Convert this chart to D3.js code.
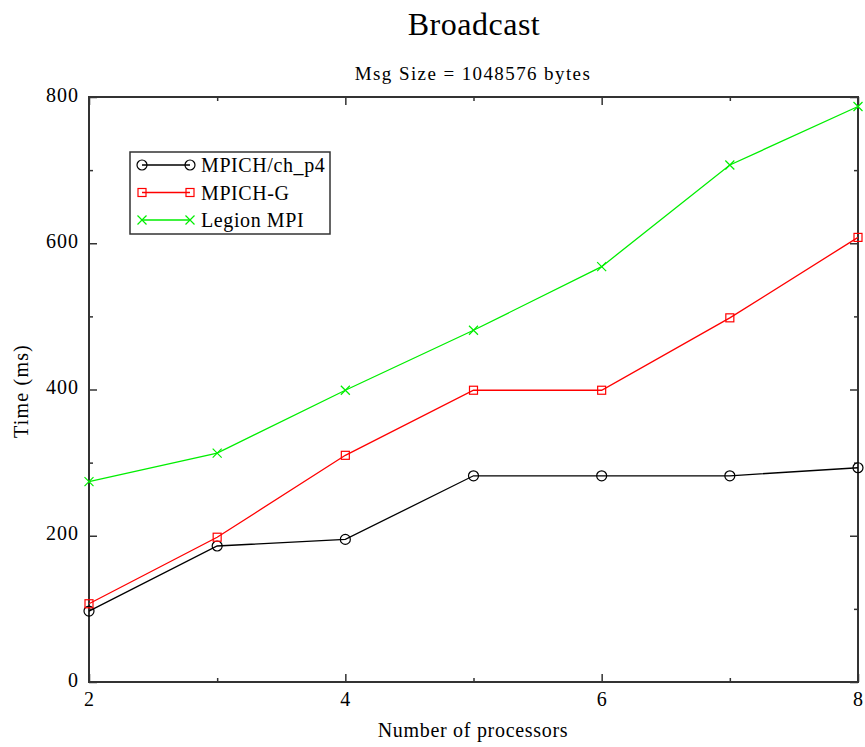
<!DOCTYPE html>
<html>
<head>
<meta charset="utf-8">
<script src="https://cdn.jsdelivr.net/npm/d3@7"></script>
<style>
  html, body { margin: 0; padding: 0; background: #fff; }
  text { font-family: "Liberation Serif", "DejaVu Serif", serif; fill: #000; }
</style>
</head>
<body>
<svg id="chart" width="865" height="747"></svg>
<script>
// Broadcast timings, 1 MiB message, per processor count
const processors = [2, 3, 4, 5, 6, 7, 8];
const mpichP4 = [97, 186, 195, 282, 282, 282, 293];
const mpichG = [107, 198, 310, 399, 399, 498, 608];
const legionMPI = [274, 313, 399, 481, 568, 707, 787];

const seriesNames = ["MPICH/ch_p4", "MPICH-G", "Legion MPI"];
const seriesColors = ["#000000", "#ff0000", "#00ee00"];
const seriesMarkers = ["circle", "square", "cross"];
const seriesValues = [mpichP4, mpichG, legionMPI];

const xMajorTicks = [2, 4, 6, 8];
const xMinorTicks = [3, 5, 7];
const yMajorTicks = [0, 200, 400, 600, 800];
const yMinorTicks = [100, 300, 500, 700];

const svg = d3.select("#chart");
const plot = { left: 89, right: 858, top: 97, bottom: 682 };

const x = d3.scaleLinear().domain([2, 8]).range([plot.left, plot.right]);
const y = d3.scaleLinear().domain([0, 800]).range([plot.bottom, plot.top]);

// Titles
svg.append("text").attr("x", 474).attr("y", 35).attr("text-anchor", "middle")
  .style("font-size", "32px").style("letter-spacing", "0.5px").text("Broadcast");
svg.append("text").attr("x", 473).attr("y", 80).attr("text-anchor", "middle")
  .style("font-size", "19px").style("letter-spacing", "1.4px").text("Msg Size = 1048576 bytes");

const axisColor = "#333";

// Inward ticks on all four sides via d3 axes
function tickAxis(axisFn, scale, ticks, len, transform, showLabels) {
  const a = axisFn(scale).tickValues(ticks).tickSizeInner(-len).tickSizeOuter(0)
    .tickFormat(showLabels ? d3.format("d") : "");
  const g = svg.append("g").attr("transform", transform).call(a);
  g.select(".domain").remove();
  g.selectAll(".tick line").attr("stroke", axisColor).attr("stroke-width", 1.5);
  return g;
}

const xb = tickAxis(d3.axisBottom, x, xMajorTicks, 8, `translate(0,${plot.bottom})`, true);
tickAxis(d3.axisBottom, x, xMinorTicks, 4, `translate(0,${plot.bottom})`, false);
tickAxis(d3.axisTop, x, xMajorTicks, -8, `translate(0,${plot.top})`, false)
  .selectAll(".tick line").attr("y2", 8);
tickAxis(d3.axisTop, x, xMinorTicks, -4, `translate(0,${plot.top})`, false)
  .selectAll(".tick line").attr("y2", 4);

const yl = tickAxis(d3.axisLeft, y, yMajorTicks, 8, `translate(${plot.left},0)`, true);
tickAxis(d3.axisLeft, y, yMinorTicks, 4, `translate(${plot.left},0)`, false);
tickAxis(d3.axisRight, y, yMajorTicks, 8, `translate(${plot.right},0)`, false);
tickAxis(d3.axisRight, y, yMinorTicks, 4, `translate(${plot.right},0)`, false);

xb.selectAll(".tick text").attr("y", 10).attr("dy", "0.71em")
  .style("font-size", "20px").style("letter-spacing", "1px")
  .style("font-family", "Liberation Serif, serif").attr("fill", "#000");
yl.selectAll(".tick text").attr("x", -10).attr("dy", "0.2em")
  .style("font-size", "20px").style("letter-spacing", "1px")
  .style("font-family", "Liberation Serif, serif").attr("fill", "#000");

// Plot frame
svg.append("rect").attr("x", plot.left).attr("y", plot.top)
  .attr("width", plot.right - plot.left).attr("height", plot.bottom - plot.top)
  .attr("fill", "none").attr("stroke", axisColor).attr("stroke-width", 2);

// Axis titles
svg.append("text").attr("x", 473).attr("y", 737).attr("text-anchor", "middle")
  .style("font-size", "20px").style("letter-spacing", "0.7px").text("Number of processors");
svg.append("text").attr("transform", "translate(28,391) rotate(-90)").attr("text-anchor", "middle")
  .style("font-size", "20px").style("letter-spacing", "1.2px").text("Time (ms)");

function drawMarker(g, type, cx, cy, color) {
  if (type === "circle") {
    g.append("circle").attr("cx", cx).attr("cy", cy).attr("r", 5)
      .attr("fill", "none").attr("stroke", color).attr("stroke-width", 1.2);
  } else if (type === "square") {
    g.append("rect").attr("x", cx - 4).attr("y", cy - 4).attr("width", 8).attr("height", 8)
      .attr("fill", "none").attr("stroke", color).attr("stroke-width", 1.2);
  } else {
    const s = 4.5;
    g.append("path").attr("d", `M${cx - s},${cy - s}L${cx + s},${cy + s}M${cx - s},${cy + s}L${cx + s},${cy - s}`)
      .attr("stroke", color).attr("stroke-width", 1.2).attr("fill", "none");
  }
}

const line = d3.line().x(d => x(d[0])).y(d => y(d[1]));

seriesValues.forEach((vals, i) => {
  const pts = processors.map((p, j) => [p, vals[j]]);
  const g = svg.append("g");
  g.append("path").datum(pts).attr("d", line)
    .attr("fill", "none").attr("stroke", seriesColors[i]).attr("stroke-width", 1.3);
  pts.forEach(p => drawMarker(g, seriesMarkers[i], x(p[0]), y(p[1]), seriesColors[i]));
});

// Legend
const legend = svg.append("g");
legend.append("rect").attr("x", 130).attr("y", 152).attr("width", 200).attr("height", 82)
  .attr("fill", "#fff").attr("stroke", axisColor).attr("stroke-width", 1.5);
seriesNames.forEach((name, i) => {
  const ly = 165 + i * 27.5;
  legend.append("line").attr("x1", 142).attr("x2", 190).attr("y1", ly).attr("y2", ly)
    .attr("stroke", seriesColors[i]).attr("stroke-width", 1.3);
  drawMarker(legend, seriesMarkers[i], 142, ly, seriesColors[i]);
  drawMarker(legend, seriesMarkers[i], 190, ly, seriesColors[i]);
  legend.append("text").attr("x", 201).attr("y", ly + 7).style("font-size", "20px")
    .style("letter-spacing", "0.6px").text(name);
});
</script>
</body>
</html>
